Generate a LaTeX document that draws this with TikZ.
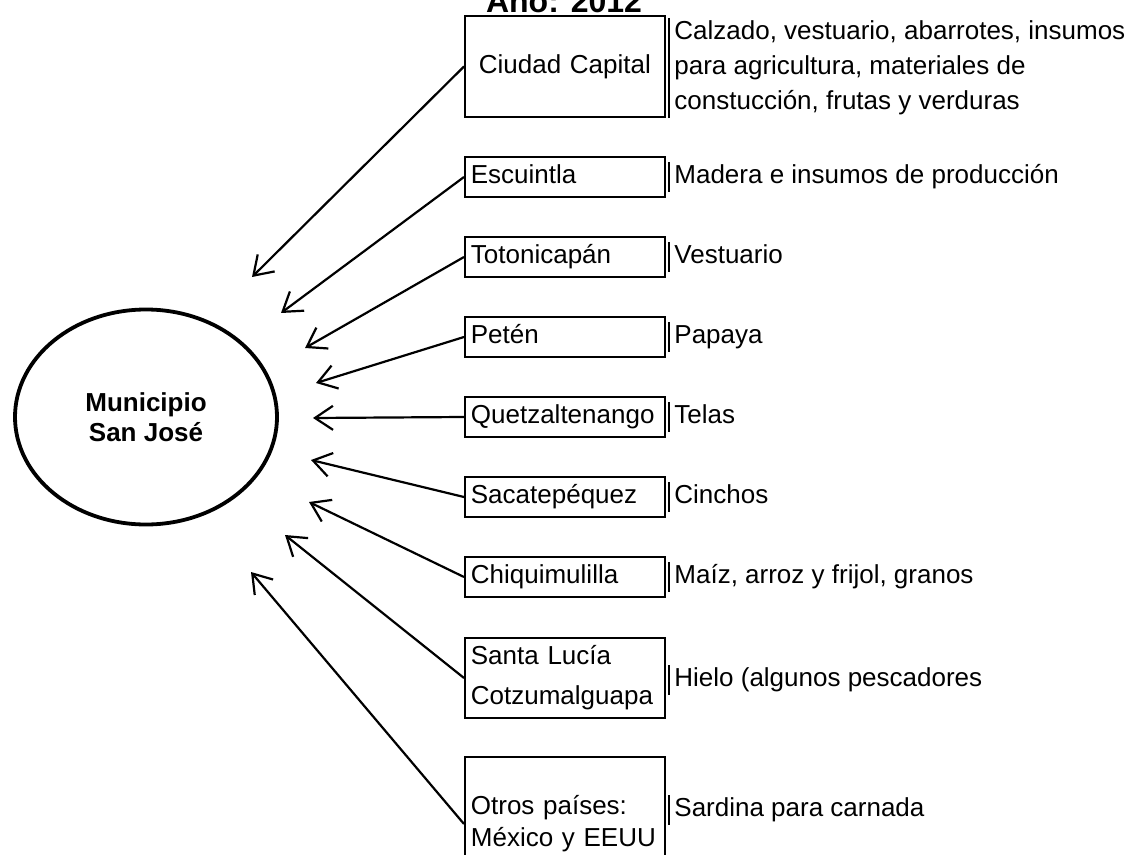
\documentclass[tikz,border=0pt]{standalone}
\usepackage{fontspec}
\setmainfont{Liberation Sans}
\usetikzlibrary{arrows.meta,shapes.geometric}
\tikzset{
  mapa/.style={x=0.5pt,y=-0.5pt,font=\fontsize{13}{15}\selectfont},
  origen/.style={draw,line width=0.9pt,anchor=west,minimum height=20pt,text width=94pt,inner xsep=3pt,align=left},
  detalle/.style={anchor=west,inner xsep=2.5pt,inner ysep=1pt,align=left},
  unalinea/.style={text height=9.5pt,text depth=2.8pt},
  flujo/.style={line width=1.1pt,-{Straight Barb[length=9pt,width=12pt]}}
}

\begin{document}
\begin{tikzpicture}[mapa]
    \useasboundingbox (0,0) rectangle (1128,855);
    \node[font=\fontsize{16}{18}\selectfont\bfseries,anchor=base] (titulo) at (564,13) {Año: 2012};
    \node[draw,ellipse,line width=1.9pt,minimum width=131pt,minimum height=107.5pt,align=center,
          font=\fontsize{13}{15}\selectfont\bfseries] (muni) at (146,417) {Municipio\\San José};
    % lugares de origen
    \node[origen,unalinea,align=center,minimum height=50.5pt] (o1) at (464,66.5) {Ciudad Capital};
    \foreach \n/\y/\t in {2/177/Escuintla,3/257/Totonicapán,4/337/Petén,5/417/Quetzaltenango,
                          6/497/Sacatepéquez,7/577/Chiquimulilla}
      \node[origen,unalinea] (o\n) at (464,\y) {\t};
    \node[origen,minimum height=40pt,font=\fontsize{13}{20}\selectfont] (o8) at (464,678) {Santa Lucía\\Cotzumalguapa};
    \node[origen,minimum height=67pt,font=\fontsize{13}{16}\selectfont] (o9) at (464,824) {Otros países:\\México y EEUU};
    % productos
    \node[detalle,font=\fontsize{13}{17.5}\selectfont] (d1) at (669,68)
      {Calzado, vestuario, abarrotes, insumos\\para agricultura, materiales de\\constucción, frutas y verduras};
    \foreach \n/\y/\t in {2/177/{Madera e insumos de producción},3/257/Vestuario,4/337/Papaya,5/417/Telas,
                          6/497/Cinchos,7/577/{Maíz, arroz y frijol, granos},8/680/{Hielo (algunos pescadores},
                          9/810/{Sardina para carnada}}
      \node[detalle,unalinea] (d\n) at (669,\y) {\t};
    \foreach \n in {1,...,9} \draw[line width=0.8pt] (d\n.north west) -- (d\n.south west);
    % flechas hacia el municipio
    \foreach \n/\x/\y in {1/252/277,2/281/313,3/305/348,4/316/383,5/313/418,6/311/460,7/309/502,8/285/535,9/251/572}
      \coordinate (t\n) at (\x,\y);
    \foreach \n in {1,...,9} \draw[flujo] (o\n.west) -- (t\n);
  \end{tikzpicture}
\end{document}
